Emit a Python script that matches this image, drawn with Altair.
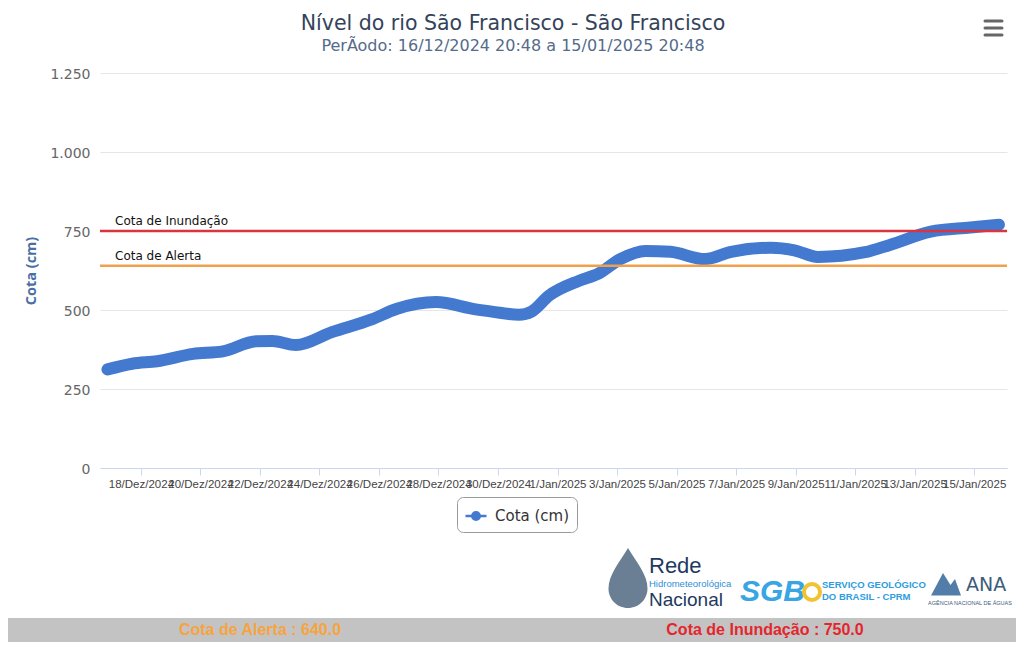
import altair as alt
import pandas as pd

# ---------------- data ----------------
dates = [
    "2024-12-16 21:00", "2024-12-17 17:00", "2024-12-18 13:00", "2024-12-19 18:00",
    "2024-12-20 18:00", "2024-12-21 21:00", "2024-12-22 10:00", "2024-12-23 05:00",
    "2024-12-24 10:00", "2024-12-25 18:00", "2024-12-26 14:00", "2024-12-27 22:00",
    "2024-12-29 06:00", "2024-12-29 19:00", "2024-12-30 17:00", "2024-12-31 03:00",
    "2024-12-31 17:00", "2025-01-01 17:00", "2025-01-02 09:00", "2025-01-03 03:00",
    "2025-01-03 23:00", "2025-01-04 19:00", "2025-01-05 23:00", "2025-01-06 20:00",
    "2025-01-08 04:00", "2025-01-08 23:00", "2025-01-09 18:00", "2025-01-11 08:00",
    "2025-01-12 04:00", "2025-01-13 13:00", "2025-01-14 21:00", "2025-01-15 20:00",
]
values = [
    312, 330, 338, 361,
    369, 401, 402, 389,
    430, 470, 503, 525,
    502, 495, 485, 495,
    545, 592, 615, 662,
    687, 684, 661, 684,
    697, 689, 668, 683,
    706, 748, 761, 770,
]
series_name = "Cota (cm)"

threshold_values = [750, 640]
threshold_labels = ["Cota de Inundação", "Cota de Alerta"]
threshold_colors = ["#d7353f", "#efa04c"]

y_ticks = [0, 250, 500, 750, 1000, 1250]
tick_dates = [
    (2024, 12, 18), (2024, 12, 20), (2024, 12, 22), (2024, 12, 24), (2024, 12, 26),
    (2024, 12, 28), (2024, 12, 30), (2025, 1, 1), (2025, 1, 3), (2025, 1, 5),
    (2025, 1, 7), (2025, 1, 9), (2025, 1, 11), (2025, 1, 13), (2025, 1, 15),
]
month_abbr = ["Jan", "Fev", "Mar", "Abr", "Mai", "Jun", "Jul", "Ago", "Set", "Out", "Nov", "Dez"]

title_text = "Nível do rio São Francisco - São Francisco"
subtitle_text = "PerÃodo: 16/12/2024 20:48 a 15/01/2025 20:48"

LINE_COLOR = "#4479d0"
W, H = 907, 395

line_df = pd.DataFrame({"data": pd.to_datetime(dates), "cota": values, "serie": series_name})

x_scale = alt.Scale(domain=[
    alt.DateTime(year=2024, month=12, date=16, hours=15),
    alt.DateTime(year=2025, month=1, date=16, hours=2, minutes=30),
])
y_scale = alt.Scale(domain=[0, 1250], nice=False)

month_js = "[" + ",".join("'%s'" % m for m in month_abbr) + "]"
x_axis = alt.Axis(
    values=[alt.DateTime(year=y, month=m, date=d) for (y, m, d) in tick_dates],
    labelExpr="timeFormat(datum.value, '%-d') + '/' + " + month_js +
              "[month(datum.value)] + '/' + timeFormat(datum.value, '%Y')",
    title=None, grid=False, domainColor="#ccd6eb", tickColor="#ccd6eb", tickSize=7,
    labelFont="Liberation Sans", labelFontSize=11.5, labelColor="#444444",
    labelOverlap=False, labelPadding=3, labelFlush=False,
)
y_axis = alt.Axis(
    values=y_ticks,
    labelExpr="replace(format(datum.value, ','), ',', '.')",
    title="Cota (cm)", titleFont="Open Sans", titleFontSize=14.5, titleFontWeight="bold",
    titleColor="#4a6fa5", titlePadding=11,
    labelFont="DejaVu Sans", labelFontSize=14, labelColor="#666666", labelPadding=10,
    labelOffset=1.5,
    ticks=False, domain=False, gridColor="#e6e6e6",
)

LEG_PATH = ("M-1,0L1,0M0.36,0A0.36,0.36,0,1,1,-0.36,0A0.36,0.36,0,1,1,0.36,0Z")

line = alt.Chart(line_df).mark_line(
    strokeWidth=12, strokeCap="round", strokeJoin="round", interpolate="monotone"
).encode(
    x=alt.X("data:T", scale=x_scale, axis=x_axis),
    y=alt.Y("cota:Q", scale=y_scale, axis=y_axis),
    color=alt.Color("serie:N", scale=alt.Scale(domain=[series_name], range=[LINE_COLOR]),
                    legend=alt.Legend(
                        title=None, orient="none", legendX=357, legendY=424,
                        direction="horizontal", padding=7, strokeColor="#999999",
                        cornerRadius=6, fillColor="white",
                        symbolType=LEG_PATH, symbolSize=441, symbolStrokeWidth=2.5,
                        symbolFillColor=LINE_COLOR, symbolStrokeColor=LINE_COLOR,
                        labelFont="DejaVu Sans", labelFontSize=15, labelColor="#333333",
                        labelOffset=7,
                    )),
)

layers = []
for v, lab, col in zip(threshold_values, threshold_labels, threshold_colors):
    df = pd.DataFrame({"cota": [v], "label": [lab]})
    layers.append(alt.Chart(df).mark_rule(color=col, strokeWidth=2.5).encode(y=alt.Y("cota:Q")))
    layers.append(alt.Chart(df).mark_text(
        align="left", baseline="bottom", dy=-3, font="DejaVu Sans", fontSize=12, color="#111111"
    ).encode(x=alt.value(15), y=alt.Y("cota:Q"), text="label:N"))


def deco_text(txt, x, y, **kw):
    return alt.Chart(pd.DataFrame({"t": [txt]})).mark_text(**kw).encode(
        x=alt.value(x), y=alt.value(y), text="t:N")


def one():
    return alt.Chart(pd.DataFrame({"a": [0]}))


# title block (drawn as text so the menu icon does not push it)
titles = [
    deco_text(title_text, 413, -49, align="center", baseline="middle",
              font="DejaVu Sans", fontSize=20.5, color="#33435a"),
    deco_text(subtitle_text, 413, -27, align="center", baseline="middle",
              font="DejaVu Sans", fontSize=16, color="#556b8a"),
]

# footer bar
footer = [
    one().mark_rect(color="#c3c3c3").encode(
        x=alt.value(-92), x2=alt.value(916), y=alt.value(545), y2=alt.value(569)),
    deco_text("Cota de Alerta : %.1f" % threshold_values[1], 160, 557,
              font="Liberation Sans", fontSize=16, fontWeight="bold", color="#f7a440"),
    deco_text("Cota de Inundação : %.1f" % threshold_values[0], 665, 557,
              font="Liberation Sans", fontSize=16, fontWeight="bold", color="#e3262e"),
]

# logos (text approximations)
DROP = ("M0,-1C0.3,-0.5,0.65,-0.1,0.65,0.35A0.65,0.65,0,1,1,-0.65,0.35"
        "C-0.65,-0.1,-0.3,-0.5,0,-1Z")
logos = [
    one().mark_point(shape=DROP, size=3600, filled=True, fill="#5a7088", opacity=0.9,
                     strokeWidth=0).encode(x=alt.value(528), y=alt.value(505)),
    deco_text("Rede", 549, 493, align="left", baseline="middle",
              font="Liberation Sans", fontSize=22, color="#1e3a5f"),
    deco_text("Hidrometeorológica", 549, 511, align="left", baseline="middle",
              font="Liberation Sans", fontSize=9.5, color="#2b8fd6"),
    deco_text("Nacional", 549, 527, align="left", baseline="middle",
              font="Liberation Sans", fontSize=19, color="#1e3a5f"),
    deco_text("SGB", 640, 519, align="left", baseline="middle", font="Liberation Sans",
              fontSize=30, fontWeight="bold", fontStyle="italic", color="#38a6e3"),
    one().mark_point(shape="circle", size=260, filled=False, stroke="#f2c230",
                     strokeWidth=4, opacity=1).encode(x=alt.value(712), y=alt.value(519)),
    deco_text("SERVIÇO GEOLÓGICO", 722, 512, align="left", baseline="middle",
              font="Liberation Sans", fontSize=9.5, fontWeight="bold", color="#2d9de0"),
    deco_text("DO BRASIL - CPRM", 722, 524, align="left", baseline="middle",
              font="Liberation Sans", fontSize=9.5, fontWeight="bold", color="#2d9de0"),
    one().mark_point(shape="M-1,0.7L-0.2,-0.8L0.3,0L0.6,-0.4L1,0.7Z", size=900, filled=True,
                     fill="#3e6f9e", strokeWidth=0, opacity=0.9).encode(
        x=alt.value(846), y=alt.value(512)),
    deco_text("ANA", 866, 512, align="left", baseline="middle", font="DejaVu Sans",
              fontSize=19, color="#3d5c7c"),
    deco_text("AGÊNCIA NACIONAL DE ÁGUAS", 870, 530, align="center", baseline="middle",
              font="Liberation Sans", fontSize=5.5, color="#3d5c7c"),
]

# menu icon
menu = [
    one().mark_rule(color="#666666", strokeWidth=3, strokeCap="round").encode(
        x=alt.value(885), x2=alt.value(902), y=alt.value(yy), y2=alt.value(yy))
    for yy in (-52, -45, -38)
]

chart = alt.layer(line, *layers, *titles, *footer, *logos, *menu).properties(
    width=W, height=H,
    autosize=alt.AutoSizeParams(type="none"),
    padding={"left": 92, "top": 65, "right": 9, "bottom": 174},
).configure_view(stroke=None)

chart.save("out.html", embed_options={"renderer": "svg", "actions": False})
